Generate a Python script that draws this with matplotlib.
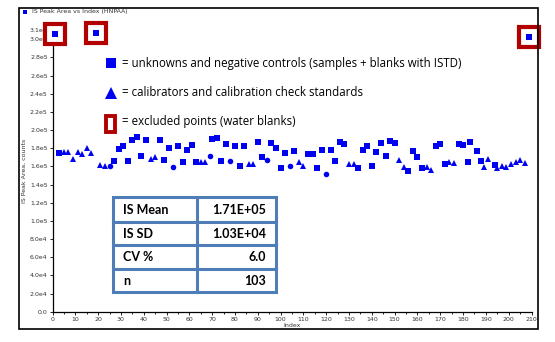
import matplotlib
matplotlib.use("Agg")
import matplotlib.pyplot as plt
from matplotlib.patches import Rectangle
from matplotlib.lines import Line2D

# ---------------- data ----------------
sample_idx = [3, 27, 29, 31, 33, 35, 37, 39, 41, 47, 49, 51, 55, 57, 59, 61, 63,
              70, 72, 74, 76, 80, 82, 84, 90, 92, 96, 98, 100, 102, 106, 112, 114,
              116, 118, 122, 124, 126, 128, 134, 136, 138, 140, 142, 144, 146, 148,
              150, 156, 158, 160, 162, 168, 170, 172, 178, 180, 182, 183, 186, 188, 194]
sample_val = [174.4, 165.9, 178.8, 182.7, 165.9, 188.7, 192.6, 171.4, 188.7, 189.3,
              167.3, 179.9, 182.4, 164.4, 178.3, 183.5, 164.4,
              190.4, 191.2, 165.9, 184.3, 182.4, 160.0, 182.4, 186.5, 170.0, 185.4,
              179.9, 157.8, 174.4, 176.6, 173.3, 173.3,
              157.8, 178.3, 178.3, 165.5, 186.5, 184.3, 157.8, 178.3, 182.4, 160.4,
              175.8, 185.4, 171.4, 187.6,
              185.4, 155.2, 177.2, 170.0, 157.8, 182.1, 184.3, 162.2, 184.3, 183.2,
              164.4, 186.5, 176.6, 165.5, 161.1]

cal_idx = [5, 7, 9, 11, 13, 15, 17, 21, 23, 43, 45, 65, 67, 86, 88, 108, 110, 130,
           132, 152, 154, 164, 166, 174, 176, 189, 191, 195, 197, 199, 201, 203, 205, 207]
cal_val = [175.8, 175.8, 168.1, 175.8, 173.3, 180.2, 175.0, 161.1, 160.4, 168.1,
           170.3, 164.4, 164.4, 162.6, 162.6, 164.4, 160.0, 162.2,
           162.2, 167.0, 158.9, 158.9, 156.0, 164.8, 164.0, 158.9, 168.1, 157.8,
           160.0, 158.9, 162.9, 164.8, 167.0, 164.0]

other_idx = [25, 53, 69, 78, 94, 104, 120]
other_val = [160.4, 158.9, 171.4, 165.9, 167.3, 160.0, 151.2]

excluded_idx = [1, 19, 209]
excluded_val = [305.3, 306.8, 302.7]

xticks = list(range(0, 211, 10))
yticks = [0, 2e4, 4e4, 6e4, 8e4, 1.0e5, 1.2e5, 1.4e5, 1.6e5, 1.8e5, 2.0e5,
          2.2e5, 2.4e5, 2.6e5, 2.8e5, 3.0e5, 3.1e5]
ytick_labels = ["0.0", "2.0e4", "4.0e4", "6.0e4", "8.0e4", "1.0e5", "1.2e5", "1.4e5",
                "1.6e5", "1.8e5", "2.0e5", "2.2e5", "2.4e5", "2.6e5", "2.8e5",
                "3.0e5", "3.1e5"]

table_labels = ["IS Mean", "IS SD", "CV %", "n"]
table_values = ["1.71E+05", "1.03E+04", "6.0", "103"]

legend_texts = ["= unknowns and negative controls (samples + blanks with ISTD)",
                "= calibrators and calibration check standards",
                "= excluded points (water blanks)"]

BLUE = "#0000F0"
RED = "#B20000"
TBL = "#4F7DB8"

# ---------------- figure ----------------
W, H = 555, 342
fig = plt.figure(figsize=(W / 100, H / 100), dpi=100)

def fx(px):
    return px / W

def fy(py):
    return 1 - py / H

ax = fig.add_axes([fx(52.5), fy(311.7), fx(531.5) - fx(52.5), fy(30.1) - fy(311.7)])

s = 1000.0
ax.plot(sample_idx, [v * s for v in sample_val], ls="none", marker="s",
        ms=3.7, mfc=BLUE, mec=BLUE, mew=0)
ax.plot(cal_idx, [v * s for v in cal_val], ls="none", marker="^",
        ms=4.3, mfc=BLUE, mec=BLUE, mew=0)
ax.plot(other_idx, [v * s for v in other_val], ls="none", marker="o",
        ms=4.0, mfc=BLUE, mec=BLUE, mew=0)
ax.plot(excluded_idx, [v * s for v in excluded_val], ls="none", marker="s",
        ms=14, mfc="white", mec=RED, mew=3.0, clip_on=False, zorder=5)
ax.plot(excluded_idx, [v * s for v in excluded_val], ls="none", marker="s",
        ms=3.7, mfc=BLUE, mec=BLUE, mew=0, clip_on=False, zorder=6)

ax.set_xlim(0, 210)
ax.set_ylim(0, 3.1e5)
ax.set_xticks(xticks)
ax.set_xticklabels([str(t) for t in xticks])
ax.set_xticks(list(range(5, 211, 10)), minor=True)
ax.set_yticks(yticks)
ax.set_yticklabels(ytick_labels)
ax.tick_params(axis="both", which="major", labelsize=4.5, length=2, width=0.6,
               pad=1.5, colors="black", labelcolor="#333333")
ax.tick_params(axis="x", which="minor", length=1.2, width=0.6)
for sp in ["top", "right"]:
    ax.spines[sp].set_visible(False)
for sp in ["left", "bottom"]:
    ax.spines[sp].set_linewidth(0.9)
ax.set_xlabel("Index", fontsize=4.5, labelpad=1, color="#333333")
ax.set_ylabel("IS Peak Area, counts", fontsize=4.5, labelpad=2, color="#333333")

# outer frame
fig.add_artist(Rectangle((fx(19), fy(329)), fx(538) - fx(19), fy(8) - fy(329),
                         transform=fig.transFigure, fill=False, ec="black", lw=1.2))

# title
fig.add_artist(Rectangle((fx(22.5), fy(14)), fx(4), fy(10) - fy(14),
                         transform=fig.transFigure, fc=BLUE, ec="none"))
fig.text(fx(31.5), fy(12), "IS Peak Area vs Index (HNPAA)", fontsize=4.5,
         color="#333333", va="center", ha="left")

# legend annotations
lx = fx(110.5)
fig.add_artist(Line2D([lx], [fy(63)], marker="s", ms=7.5, mfc=BLUE, mec=BLUE, mew=0,
                      transform=fig.transFigure))
fig.add_artist(Line2D([lx], [fy(93)], marker="^", ms=9, mfc=BLUE, mec=BLUE, mew=0,
                      transform=fig.transFigure))
fig.add_artist(Rectangle((fx(106), fy(131.5)), fx(9), fy(116) - fy(131.5),
                         transform=fig.transFigure, fill=False, ec=RED, lw=2.8))
for txt, py in zip(legend_texts, [63, 92, 122]):
    fig.text(fx(122), fy(py), txt, fontsize=8.3, family="Open Sans",
             va="center", ha="left", color="black")

# statistics table
tl, tr, tmid = 113.3, 275.5, 196.7
rows = [196.7, 221.7, 245.0, 268.7, 291.5]
fig.add_artist(Rectangle((fx(tl), fy(rows[-1])), fx(tr) - fx(tl), fy(rows[0]) - fy(rows[-1]),
                         transform=fig.transFigure, fill=False, ec=TBL, lw=2.2, zorder=10))
for r in rows[1:-1]:
    fig.add_artist(Line2D([fx(tl), fx(tr)], [fy(r), fy(r)], color=TBL, lw=2.2,
                          transform=fig.transFigure, zorder=10))
fig.add_artist(Line2D([fx(tmid), fx(tmid)], [fy(rows[0]), fy(rows[-1])], color=TBL, lw=2.2,
                      transform=fig.transFigure, zorder=10))
for i, (lab, val) in enumerate(zip(table_labels, table_values)):
    yc = fy((rows[i] + rows[i + 1]) / 2 + 0.5)
    fig.text(fx(123), yc, lab, fontsize=9, fontweight="bold", family="Lato",
             va="center", ha="left", zorder=11)
    fig.text(fx(266), yc, val, fontsize=9, fontweight="bold", family="Lato",
             va="center", ha="right", zorder=11)

fig.savefig("out.png", dpi=100)
